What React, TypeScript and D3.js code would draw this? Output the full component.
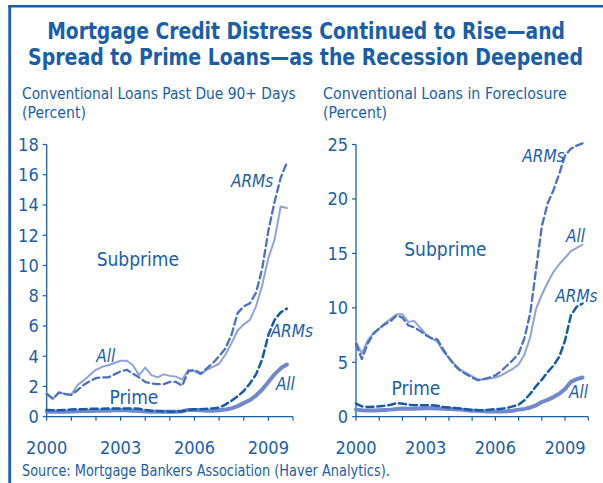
import * as d3 from 'd3';
import { useLayoutEffect, useRef, useState } from 'react';

const quarters = d3.range(40).map((i) => 2000 + i / 4);

// Conventional loans past due 90+ days (percent), quarterly 2000Q1-2009Q4
const pastDueSubprimeAll = [
  1.55, 1.15, 1.6, 1.5, 1.45, 2.1, 2.4, 2.75, 3.1, 3.3, 3.4, 3.55, 3.7, 3.7, 3.4, 2.75,
  3.25, 2.75, 2.6, 2.8, 2.7, 2.65, 2.45, 3.1, 3.0, 2.8, 3.1, 3.3, 3.5, 4.1, 4.85, 5.7,
  6.1, 6.4, 7.3, 8.7, 10.5, 11.7, 13.9, 13.8,
];
const pastDueSubprimeArms = [
  1.5, 1.2, 1.6, 1.5, 1.45, 1.75, 2.1, 2.35, 2.55, 2.6, 2.6, 2.8, 3.0, 3.1, 2.85, 2.6,
  2.3, 2.2, 2.15, 2.15, 2.3, 2.3, 2.05, 3.0, 3.1, 2.85, 3.2, 3.55, 4.0, 4.5, 5.4, 6.85,
  7.3, 7.5, 8.2, 9.8, 12.3, 14.2, 15.8, 16.8,
];
const pastDuePrimeAll = [
  0.35, 0.33, 0.32, 0.32, 0.35, 0.36, 0.38, 0.38, 0.4, 0.4, 0.4, 0.42, 0.42, 0.42, 0.4, 0.38,
  0.35, 0.33, 0.32, 0.32, 0.32, 0.33, 0.35, 0.45, 0.45, 0.42, 0.4, 0.4, 0.42, 0.47, 0.55, 0.7,
  0.9, 1.1, 1.4, 1.8, 2.3, 2.8, 3.2, 3.45,
];
const pastDuePrimeArms = [
  0.45, 0.42, 0.42, 0.45, 0.48, 0.5, 0.5, 0.52, 0.52, 0.52, 0.55, 0.55, 0.55, 0.55, 0.55, 0.52,
  0.45, 0.4, 0.38, 0.35, 0.33, 0.33, 0.38, 0.45, 0.5, 0.5, 0.52, 0.55, 0.6, 0.8, 1.05, 1.35,
  1.7, 2.2, 2.8, 3.8, 5.4, 6.4, 6.9, 7.15,
];

// Conventional loans in foreclosure (percent)
const foreclosureSubprimeAll = [
  6.9, 5.8, 7.0, 7.7, 8.1, 8.6, 9.0, 9.4, 9.4, 8.7, 8.8, 8.2, 7.6, 7.2, 6.9, 6.0,
  5.4, 4.8, 4.3, 4.0, 3.7, 3.4, 3.45, 3.5, 3.6, 3.8, 4.1, 4.4, 4.8, 5.7, 7.3, 9.9,
  11.2, 12.3, 13.3, 14.0, 14.6, 15.2, 15.5, 15.8,
];
const foreclosureSubprimeArms = [
  6.7, 5.3, 6.7, 7.6, 8.1, 8.5, 8.8, 9.3, 9.1, 8.4, 8.2, 7.9, 7.5, 7.2, 7.1, 6.2,
  5.4, 4.7, 4.2, 3.9, 3.6, 3.35, 3.45, 3.6, 3.8, 4.2, 4.7, 5.2, 5.8, 7.2, 9.5, 13.5,
  17.5, 19.6, 20.8, 22.3, 24.0, 24.6, 24.9, 25.1,
];
const foreclosurePrimeAll = [
  0.65, 0.6, 0.58, 0.58, 0.6, 0.62, 0.65, 0.7, 0.75, 0.72, 0.72, 0.75, 0.78, 0.78, 0.75, 0.72,
  0.7, 0.68, 0.65, 0.6, 0.55, 0.55, 0.5, 0.48, 0.47, 0.47, 0.5, 0.55, 0.65, 0.72, 0.85, 1.05,
  1.35, 1.55, 1.8, 2.1, 2.55, 3.2, 3.45, 3.6,
];
const foreclosurePrimeArms = [
  1.2, 0.95, 0.9, 0.92, 0.95, 1.0, 1.1, 1.25, 1.2, 1.1, 1.05, 1.05, 1.05, 1.05, 1.0, 0.9,
  0.85, 0.8, 0.75, 0.68, 0.62, 0.6, 0.6, 0.65, 0.7, 0.72, 0.8, 0.95, 1.1, 1.5, 2.1, 2.8,
  3.4, 4.1, 4.7, 5.5, 7.0, 9.3, 10.1, 10.4,
];

const yearTicks = d3.range(2000, 2011);
const yearLabels = [2000, 2003, 2006, 2009];
const pastDueTicks = [0, 2, 4, 6, 8, 10, 12, 14, 16, 18];
const foreclosureTicks = [0, 5, 10, 15, 20, 25];

const BLUE = '#1a5ea8';
const FONT = "'Liberation Sans Narrow', 'DejaVu Sans Condensed', 'Liberation Sans', sans-serif";

const styles = {
  subAll: { stroke: '#8fa2da', width: 2, dash: null },
  subArms: { stroke: '#4c70bf', width: 2.3, dash: '7,4' },
  primeAll: { stroke: '#7188cd', width: 4, dash: null },
  primeArms: { stroke: '#165aa6', width: 2.5, dash: '7,4' },
};

// Text squeezed horizontally to a target width (the original uses a condensed face)
function FitText({ x, y, width, anchor = 'start', children, ...rest }: any) {
  const ref = useRef<SVGTextElement>(null);
  const [k, setK] = useState(1);
  useLayoutEffect(() => {
    if (!ref.current) return;
    const w = ref.current.getComputedTextLength();
    if (w > 0) setK(width / w);
  }, [width, children]);
  return (
    <text ref={ref} transform={`translate(${x},${y}) scale(${k},1)`} textAnchor={anchor} {...rest}>
      {children}
    </text>
  );
}

type Label = { text: string; x: number; y: number; italic?: boolean; size: number };

function Panel({ x0, x1, yMax, ticks, series, labels }: {
  x0: number; x1: number; yMax: number; ticks: number[];
  series: { values: number[]; style: { stroke: string; width: number; dash: string | null } }[];
  labels: Label[];
}) {
  const x = d3.scaleLinear().domain([2000, 2010]).range([x0, x1]);
  const y = d3.scaleLinear().domain([0, yMax]).range([416.7, 144.5]);
  const line = d3.line<number>()
    .x((_, i) => x(quarters[i]))
    .y((d) => y(d));

  return (
    <g>
      {/* axes */}
      <line x1={x0} x2={x0} y1={y(0)} y2={y(yMax)} stroke={BLUE} strokeWidth={1.3} />
      <line x1={x0} x2={x1} y1={y(0)} y2={y(0)} stroke={BLUE} strokeWidth={1.3} />
      {ticks.map((t) => (
        <g key={t}>
          <line x1={x0 - 4} x2={x0} y1={y(t)} y2={y(t)} stroke={BLUE} strokeWidth={1.2} />
          <text x={x0 - 8} y={y(t) + 6.3} textAnchor="end" fontSize={18} fill={BLUE}>{t}</text>
        </g>
      ))}
      {yearTicks.map((t) => (
        <line key={t} x1={x(t)} x2={x(t)} y1={y(0)} y2={y(0) + 4} stroke={BLUE} strokeWidth={1.2} />
      ))}
      {yearLabels.map((t) => (
        <text key={t} x={x(t)} y={454} textAnchor="middle" fontSize={18} fill={BLUE}>{t}</text>
      ))}

      {series.map((s, i) => (
        <path key={i} d={line(s.values) ?? ''} fill="none" stroke={s.style.stroke}
          strokeWidth={s.style.width} strokeDasharray={s.style.dash ?? undefined}
          strokeLinejoin="round" strokeLinecap="round" />
      ))}

      {labels.map((l, i) => (
        <text key={i} x={x(l.x)} y={y(l.y)} textAnchor="middle" fontSize={l.size}
          fontStyle={l.italic ? 'italic' : 'normal'} fill={BLUE}>{l.text}</text>
      ))}
    </g>
  );
}

export default function App() {
  return (
    <div style={{ position: 'absolute', left: 0, top: 0 }}>
      <svg width={603} height={483} fontFamily={FONT} style={{ display: 'block', background: '#fff' }}>
        {/* frame */}
        <line x1={9.7} x2={9.7} y1={5} y2={483} stroke={BLUE} strokeWidth={2.8} />
        <line x1={8.3} x2={603} y1={6.2} y2={6.2} stroke={BLUE} strokeWidth={2.6} />

        <FitText x={306} y={38.5} width={518} anchor="middle" fontSize={23.5} fontWeight="bold" fill={BLUE}>
          Mortgage Credit Distress Continued to Rise—and
        </FitText>
        <FitText x={305.5} y={65} width={555} anchor="middle" fontSize={23.5} fontWeight="bold" fill={BLUE}>
          Spread to Prime Loans—as the Recession Deepened
        </FitText>

        <FitText x={22} y={99} width={274} fontSize={16.5} fill={BLUE}>
          Conventional Loans Past Due 90+ Days
        </FitText>
        <FitText x={22} y={118} width={64} fontSize={16.5} fill={BLUE}>(Percent)</FitText>
        <FitText x={323} y={99} width={244} fontSize={16.5} fill={BLUE}>
          Conventional Loans in Foreclosure
        </FitText>
        <FitText x={323} y={118} width={64} fontSize={16.5} fill={BLUE}>(Percent)</FitText>

        <Panel
          x0={46.7} x1={293} yMax={18} ticks={pastDueTicks}
          series={[
            { values: pastDuePrimeAll, style: styles.primeAll },
            { values: pastDuePrimeArms, style: styles.primeArms },
            { values: pastDueSubprimeAll, style: styles.subAll },
            { values: pastDueSubprimeArms, style: styles.subArms },
          ]}
          labels={[
            { text: 'Subprime', x: 2003.7, y: 9.95, size: 19 },
            { text: 'ARMs', x: 2008.34, y: 15.2, italic: true, size: 17 },
            { text: 'All', x: 2002.4, y: 3.6, italic: true, size: 17 },
            { text: 'Prime', x: 2003.54, y: 0.84, size: 19 },
            { text: 'ARMs', x: 2009.95, y: 5.28, italic: true, size: 17 },
            { text: 'All', x: 2009.69, y: 1.77, italic: true, size: 17 },
          ]}
        />
        <Panel
          x0={356} x1={588.3} yMax={25} ticks={foreclosureTicks}
          series={[
            { values: foreclosurePrimeAll, style: styles.primeAll },
            { values: foreclosurePrimeArms, style: styles.primeArms },
            { values: foreclosureSubprimeAll, style: styles.subAll },
            { values: foreclosureSubprimeArms, style: styles.subArms },
          ]}
          labels={[
            { text: 'Subprime', x: 2003.85, y: 14.78, size: 19 },
            { text: 'ARMs', x: 2008.07, y: 23.43, italic: true, size: 17 },
            { text: 'All', x: 2009.45, y: 16.07, italic: true, size: 17 },
            { text: 'ARMs', x: 2009.49, y: 10.55, italic: true, size: 17 },
            { text: 'Prime', x: 2002.58, y: 1.99, size: 19 },
            { text: 'All', x: 2009.58, y: 1.72, italic: true, size: 17 },
          ]}
        />

        <FitText x={22} y={476} width={368} fontSize={15.5} fill={BLUE}>
          Source: Mortgage Bankers Association (Haver Analytics).
        </FitText>
      </svg>
    </div>
  );
}
